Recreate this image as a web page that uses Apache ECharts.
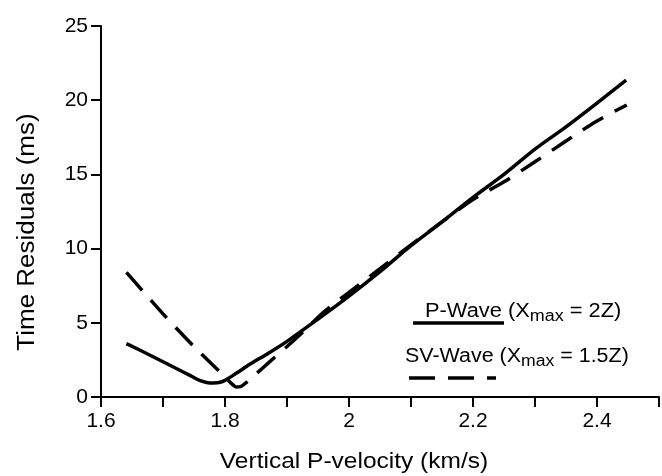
<!DOCTYPE html>
<html>
<head>
<meta charset="utf-8">
<script src="https://cdn.jsdelivr.net/npm/echarts@6/dist/echarts.min.js"></script>
<style>
html,body{margin:0;padding:0;background:#fff;}
#chart{width:662px;height:476px;}
</style>
</head>
<body>
<div id="chart"></div>
<script>
// P-wave (Xmax = 2Z): vertical P-velocity (km/s) vs time residual (ms)
const pVelocity = [1.641,1.68,1.72,1.745,1.76,1.775,1.79,1.80,1.82,1.84,1.87,1.90,1.95,2.00,2.05,2.10,2.15,2.20,2.25,2.30,2.35,2.40,2.447];
const pResidual = [3.6,2.8,1.95,1.42,1.1,0.95,0.98,1.12,1.65,2.2,2.95,3.75,5.25,6.8,8.45,10.2,11.8,13.45,15.0,16.7,18.2,19.8,21.35];
// SV-wave (Xmax = 1.5Z)
const svVelocity = [1.641,1.70,1.75,1.80,1.812,1.818,1.825,1.835,1.85,1.87,1.90,1.93,1.96,2.00,2.05,2.10,2.15,2.20,2.25,2.30,2.35,2.40,2.448];
const svResidual = [8.4,5.6,3.4,1.35,0.85,0.68,0.7,1.0,1.55,2.3,3.4,4.55,5.75,7.05,8.65,10.25,11.8,13.3,14.5,15.85,17.25,18.6,19.68];
// axis ticks
const xLabels = ['1.6','1.8','2','2.2','2.4'];
const yTicks = [0,5,10,15,20,25];

const pairs = (xs, ys) => xs.map((x, i) => [x, ys[i]]);
const font = 'Liberation Sans, Arial, Helvetica, sans-serif';
const legendRich = {
  a: {fontFamily: font, fontSize: 19.5, lineHeight: 24, fill: '#000'},
  s: {fontFamily: font, fontSize: 16, lineHeight: 16, padding: [9, 0, 0, 0], fill: '#000'}
};

const chart = echarts.init(document.getElementById('chart'), null, {renderer: 'canvas'});
chart.setOption({
  animation: false,
  backgroundColor: '#fff',
  grid: {left: 101, right: 3, top: 26, bottom: 79},
  xAxis: {
    type: 'value', min: 1.6, max: 2.5, interval: 0.1,
    axisLine: {lineStyle: {color: '#000', width: 2}},
    axisTick: {length: 10, lineStyle: {color: '#000', width: 2}},
    splitLine: {show: false},
    axisLabel: {
      color: '#000', fontFamily: font, fontSize: 21, margin: 14,
      formatter: v => {
        const k = Math.round((v - 1.6) * 10);
        return (k % 2 === 0 && k / 2 < xLabels.length) ? xLabels[k / 2] : '';
      }
    }
  },
  yAxis: {
    type: 'value', min: yTicks[0], max: yTicks[yTicks.length - 1], interval: 5,
    axisLine: {lineStyle: {color: '#000', width: 2}},
    axisTick: {length: 10, lineStyle: {color: '#000', width: 2}},
    splitLine: {show: false},
    axisLabel: {color: '#000', fontFamily: font, fontSize: 21, margin: 13}
  },
  graphic: [
    {type: 'text', x: 354, y: 462, scaleX: 1.14, style: {text: 'Vertical P-velocity (km/s)', font: '21.5px ' + font, fill: '#000', align: 'center', verticalAlign: 'middle'}},
    {type: 'text', x: 28, y: 232, rotation: Math.PI / 2, scaleX: 1.13, style: {text: 'Time Residuals (ms)', font: '23px ' + font, fill: '#000', align: 'center', verticalAlign: 'middle'}},
    {type: 'text', x: 425, y: 312, scaleX: 1.12, style: {
      text: '{a|P-Wave (X}{s|max}{a| = 2Z)}', fill: '#000', align: 'left', verticalAlign: 'middle', rich: legendRich
    }},
    {type: 'text', x: 405, y: 357, scaleX: 1.1, style: {
      text: '{a|SV-Wave (X}{s|max}{a| = 1.5Z)}', fill: '#000', align: 'left', verticalAlign: 'middle', rich: legendRich
    }},
    {type: 'line', shape: {x1: 413, y1: 323, x2: 504, y2: 323}, style: {stroke: '#000', lineWidth: 3.5}},
    {type: 'line', shape: {x1: 409, y1: 378, x2: 496, y2: 378}, style: {stroke: '#000', lineWidth: 3.5, lineDash: [26, 13]}}
  ],
  series: [
    {
      name: 'P-Wave', type: 'line', data: pairs(pVelocity, pResidual),
      showSymbol: false, smooth: 0.3,
      lineStyle: {color: '#000', width: 3.5, type: 'solid'}
    },
    {
      name: 'SV-Wave', type: 'line', data: pairs(svVelocity, svResidual),
      showSymbol: false, smooth: 0.3,
      lineStyle: {color: '#000', width: 3.5, type: [24, 13], cap: 'butt'}
    }
  ]
});
</script>
</body>
</html>
